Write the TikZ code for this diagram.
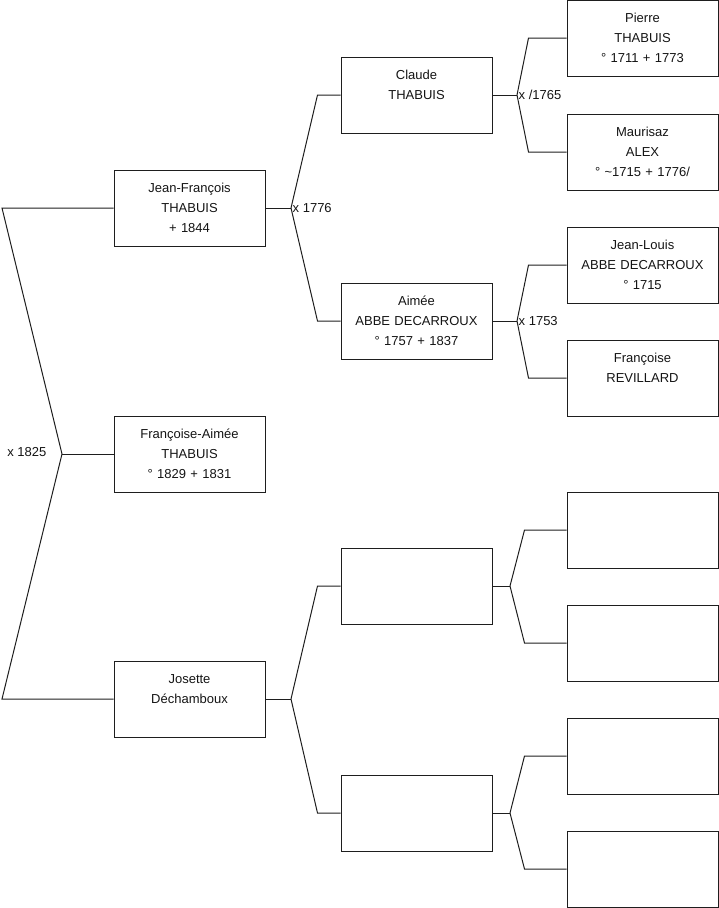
\documentclass[tikz,border=0pt]{standalone}
\usepackage{fontspec}
\setmainfont{Liberation Sans}
\usepackage{xcolor}
\usepackage{tikz}
\usetikzlibrary{calc}
\definecolor{figline}{RGB}{30,30,30}
\definecolor{figtext}{RGB}{20,20,20}
\tikzset{
  pbox/.style ={draw=figline, line width=1pt, text=figtext, text width=151pt,
                align=center, inner sep=0pt, text height=22.5pt, text depth=53.5pt,
                font=\fontsize{13}{20}\selectfont},
  lnk/.style  ={draw=figline, line width=1pt},
  mlab/.style ={text=figtext, font=\fontsize{13}{15}\selectfont, inner sep=1.5pt},
}
\begin{document}
\begin{tikzpicture}[x=1pt,y=-1pt]
  \useasboundingbox (0,0) rectangle (719,908);
  % generation 1
  \node[pbox] (jf) at (189.5,208) {Jean-François\\THABUIS\\+ 1844};
  \node[pbox] (fa) at (189.5,454) {Françoise-Aimée\\THABUIS\\° 1829 + 1831};
  \node[pbox] (jo) at (189.5,699) {Josette\\Déchamboux};
  % generation 2
  \node[pbox] (cl) at (416.5,95) {Claude\\THABUIS};
  \node[pbox] (ai) at (416.5,321) {Aimée\\ABBE DECARROUX\\° 1757 + 1837};
  \node[pbox] (ma) at (416.5,586) {};
  \node[pbox] (mb) at (416.5,813) {};
  % generation 3
  \node[pbox] (pi) at (642.5,38) {Pierre\\THABUIS\\° 1711 + 1773};
  \node[pbox] (mz) at (642.5,152) {Maurisaz\\ALEX\\° \textasciitilde1715 + 1776/};
  \node[pbox] (jl) at (642.5,265) {Jean-Louis\\ABBE DECARROUX\\° 1715};
  \node[pbox] (fr) at (642.5,378) {Françoise\\REVILLARD};
  \node[pbox] (ea) at (642.5,530) {};
  \node[pbox] (eb) at (642.5,643) {};
  \node[pbox] (ec) at (642.5,756) {};
  \node[pbox] (ed) at (642.5,869) {};
  % junctions
  \coordinate (r0) at (62,454);
  \coordinate (rt) at (2,208);
  \coordinate (rb) at (2,699);
  \coordinate (j1) at (291,208);
  \coordinate (j2) at (291,699);
  \coordinate (j3) at (517,95);
  \coordinate (j4) at (517,321);
  \coordinate (j5) at (510,586);
  \coordinate (j6) at (510,813);
  % root bracket
  \draw[lnk] (jf.west) -- (rt) -- (r0) -- (rb) -- (jo.west);
  \draw[lnk] (r0) -- (fa.west);
  \node[mlab,anchor=east] (m0) at (48,452) {x 1825};
  % parents of Jean-François
  \draw[lnk] (jf.east) -- (j1);
  \draw[lnk] (j1) -- ([xshift=-23pt]cl.west) -- (cl.west);
  \draw[lnk] (j1) -- ([xshift=-23pt]ai.west) -- (ai.west);
  \node[mlab,anchor=west] (m1) at (j1) {x 1776};
  % parents of Josette
  \draw[lnk] (jo.east) -- (j2);
  \draw[lnk] (j2) -- ([xshift=-23pt]ma.west) -- (ma.west);
  \draw[lnk] (j2) -- ([xshift=-23pt]mb.west) -- (mb.west);
  % parents of Claude
  \draw[lnk] (cl.east) -- (j3);
  \draw[lnk] (j3) -- ([xshift=-38pt]pi.west) -- (pi.west);
  \draw[lnk] (j3) -- ([xshift=-38pt]mz.west) -- (mz.west);
  \node[mlab,anchor=west] (m3) at (j3) {x /1765};
  % parents of Aimée
  \draw[lnk] (ai.east) -- (j4);
  \draw[lnk] (j4) -- ([xshift=-38pt]jl.west) -- (jl.west);
  \draw[lnk] (j4) -- ([xshift=-38pt]fr.west) -- (fr.west);
  \node[mlab,anchor=west] (m4) at (j4) {x 1753};
  % empty branches
  \draw[lnk] (ma.east) -- (j5);
  \draw[lnk] (j5) -- ([xshift=-42pt]ea.west) -- (ea.west);
  \draw[lnk] (j5) -- ([xshift=-42pt]eb.west) -- (eb.west);
  \draw[lnk] (mb.east) -- (j6);
  \draw[lnk] (j6) -- ([xshift=-42pt]ec.west) -- (ec.west);
  \draw[lnk] (j6) -- ([xshift=-42pt]ed.west) -- (ed.west);
\end{tikzpicture}
\end{document}
